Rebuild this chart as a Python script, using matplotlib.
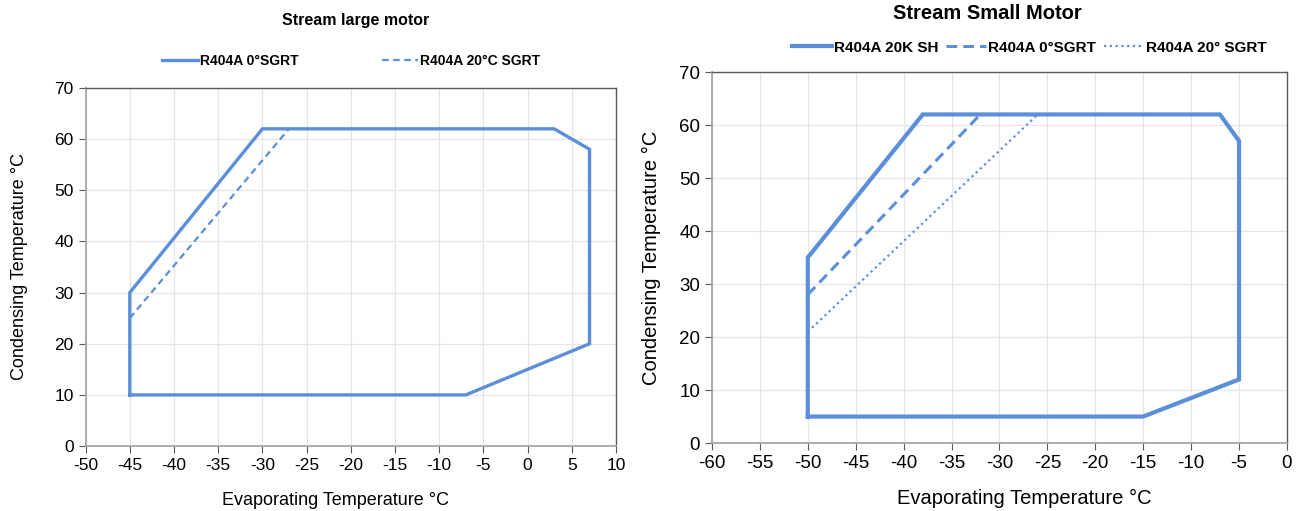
import matplotlib
matplotlib.use("Agg")
import matplotlib.pyplot as plt

plt.rcParams['font.family'] = ['Liberation Sans', 'DejaVu Sans']
plt.rcParams['axes.unicode_minus'] = False

BLUE = '#5b8fd9'

# left chart: Stream large motor
large_0_x = [-45, -45, -30, 3, 7, 7, -7, -45]
large_0_y = [10, 30, 62, 62, 58, 20, 10, 10]
large_20_x = [-45, -27]
large_20_y = [25, 62]

# right chart: Stream Small Motor
small_sh_x = [-50, -50, -38, -7, -5, -5, -15, -50]
small_sh_y = [5, 35, 62, 62, 57, 12, 5, 5]
small_0_x = [-50, -32]
small_0_y = [28, 62]
small_20_x = [-50, -26]
small_20_y = [21, 62]

left_xticks = list(range(-50, 11, 5))
right_xticks = list(range(-60, 1, 5))
yticks = list(range(0, 71, 10))


def styleAxis(ax, fs):
	ax.grid(True, color='#e6e6e6', linewidth=0.9)
	ax.set_axisbelow(True)
	for s in ['top', 'right']:
		ax.spines[s].set_color('#595959')
		ax.spines[s].set_linewidth(1.0)
	for s in ['left', 'bottom']:
		ax.spines[s].set_color('#a6a6a6')
		ax.spines[s].set_linewidth(1.3)
	ax.tick_params(axis='both', colors='#595959', labelcolor='black', labelsize=fs, direction='out', length=5)


fig = plt.figure(figsize=(13.03, 5.11), dpi=100)

ax1 = fig.add_axes([0.0657, 0.127, 0.4071, 0.701])
ax1.plot(large_0_x, large_0_y, color=BLUE, linewidth=2.4, label='R404A 0°SGRT', solid_joinstyle='miter')
ax1.plot(large_20_x, large_20_y, color=BLUE, linewidth=1.6, linestyle=(0, (3, 2)), label='R404A 20°C SGRT')
ax1.set_xlim(-50, 10)
ax1.set_ylim(0, 70)
ax1.set_xticks(left_xticks)
ax1.set_yticks(yticks)
styleAxis(ax1, 12.5)
ax1.set_xlabel('Evaporating Temperature °C', fontsize=13)
ax1.xaxis.set_label_coords(0.472, -0.128)
ax1.set_ylabel('Condensing Temperature °C', fontsize=13)
ax1.yaxis.set_label_coords(-0.108, 0.5)
fig.text(0.2726, 0.96, 'Stream large motor', ha='center', va='center', fontsize=11.5, fontweight='bold')
ax1.legend(loc='lower center', bbox_to_anchor=(0.5, 1.02), ncol=2, frameon=False,
	handlelength=2.6, handletextpad=0.15, columnspacing=6, prop={'weight': 'bold', 'size': 10})

ax2 = fig.add_axes([0.5464, 0.133, 0.4413, 0.726])
ax2.plot(small_sh_x, small_sh_y, color=BLUE, linewidth=3.0, label='R404A 20K SH', solid_joinstyle='miter')
ax2.plot(small_0_x, small_0_y, color=BLUE, linewidth=2.2, linestyle=(0, (3.5, 2)), label='R404A 0°SGRT')
ax2.plot(small_20_x, small_20_y, color=BLUE, linewidth=1.6, linestyle=(0, (1, 1.6)), label='R404A 20° SGRT')
ax2.set_xlim(-60, 0)
ax2.set_ylim(0, 70)
ax2.set_xticks(right_xticks)
ax2.set_yticks(yticks)
styleAxis(ax2, 13.5)
ax2.set_xlabel('Evaporating Temperature °C', fontsize=14.5)
ax2.xaxis.set_label_coords(0.543, -0.125)
ax2.set_ylabel('Condensing Temperature °C', fontsize=14.5)
ax2.yaxis.set_label_coords(-0.088, 0.5)
fig.text(0.7575, 0.974, 'Stream Small Motor', ha='center', va='center', fontsize=14.5, fontweight='bold')
ax2.legend(loc='lower center', bbox_to_anchor=(0.552, 1.01), ncol=3, frameon=False,
	handlelength=2.6, handletextpad=0.15, columnspacing=0.5, prop={'weight': 'bold', 'size': 11})

plt.savefig('out.png', dpi=100)
